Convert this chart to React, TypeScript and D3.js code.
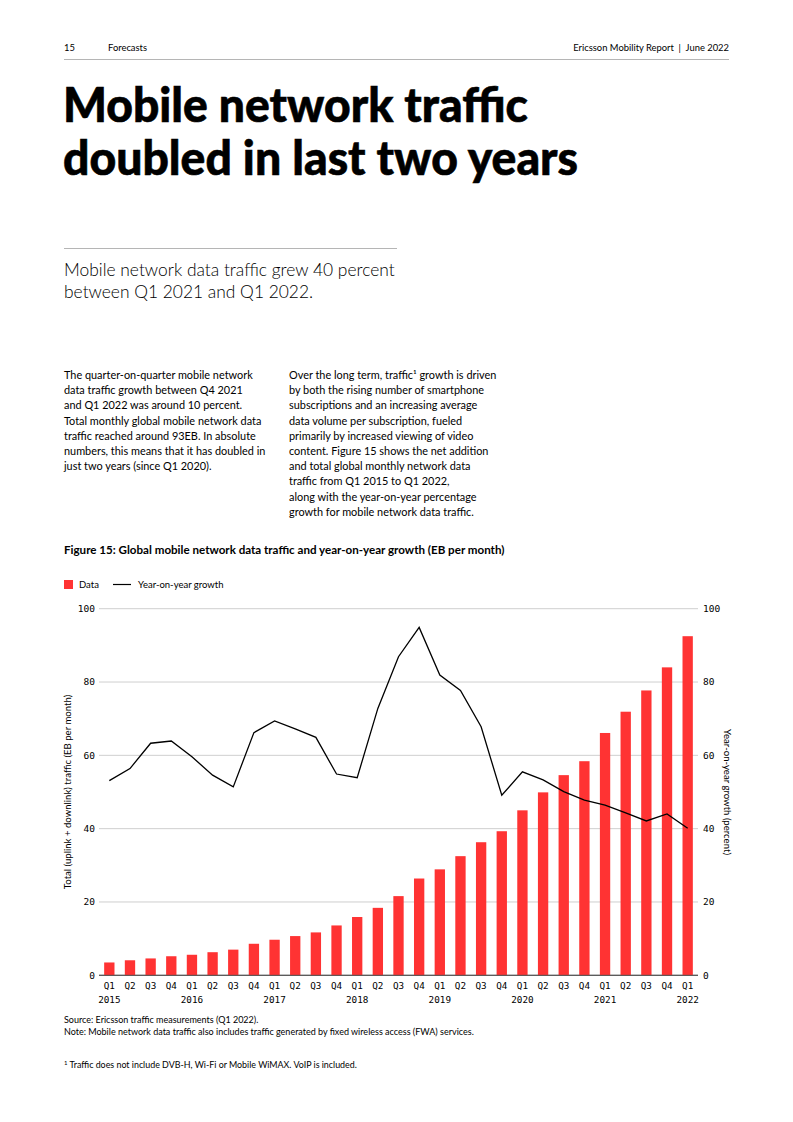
import React from "react";
import * as d3 from "d3";

const quarters = ["Q1","Q2","Q3","Q4","Q1","Q2","Q3","Q4","Q1","Q2","Q3","Q4","Q1","Q2","Q3","Q4","Q1","Q2","Q3","Q4","Q1","Q2","Q3","Q4","Q1","Q2","Q3","Q4","Q1"];
const years = ["2015","2015","2015","2015","2016","2016","2016","2016","2017","2017","2017","2017","2018","2018","2018","2018","2019","2019","2019","2019","2020","2020","2020","2020","2021","2021","2021","2021","2022"];
const trafficEB = [3.5,4.1,4.6,5.2,5.6,6.3,7.0,8.6,9.7,10.7,11.7,13.6,15.9,18.4,21.6,26.4,28.9,32.5,36.3,39.3,45.0,49.9,54.6,58.4,66.1,71.9,77.7,84.0,92.5];
const growthPct = [53.1,56.4,63.3,63.9,59.6,54.6,51.4,66.2,69.4,67.2,64.9,54.9,53.9,72.8,86.9,94.9,81.9,77.7,67.8,49.1,55.5,53.3,50.1,47.8,46.4,44.3,42.1,44.0,40.1];
const yTicks = [0,20,40,60,80,100];

const bodyLeft = [
  "The quarter-on-quarter mobile network",
  "data traffic growth between Q4 2021",
  "and Q1 2022 was around 10 percent.",
  "Total monthly global mobile network data",
  "traffic reached around 93EB. In absolute",
  "numbers, this means that it has doubled in",
  "just two years (since Q1 2020).",
];
const bodyRight = [
  "Over the long term, traffic¹ growth is driven",
  "by both the rising number of smartphone",
  "subscriptions and an increasing average",
  "data volume per subscription, fueled",
  "primarily by increased viewing of video",
  "content. Figure 15 shows the net addition",
  "and total global monthly network data",
  "traffic from Q1 2015 to Q1 2022,",
  "along with the year-on-year percentage",
  "growth for mobile network data traffic.",
];

const SANS = "Lato, 'Noto Sans', sans-serif";
const MONO = "'DejaVu Sans Mono', monospace";
const RED = "#ff3333";

export default function App() {
  const left = 99, right = 698, top = 608.7, bottom = 975.3;
  const idx = trafficEB.map((_, i) => String(i));
  const x = d3.scaleBand<string>().domain(idx).range([left, right]).paddingInner(0.5).paddingOuter(0.25);
  const y = d3.scaleLinear().domain([0, 100]).range([bottom, top]);
  const line = d3.line<number>().x((_, i) => (x(String(i)) as number) + x.bandwidth() / 2).y((d) => y(d));

  return (
    <svg width={793} height={1122} style={{ position: "absolute", left: 0, top: 0, background: "#fff" }} fontFamily={SANS}>
      {/* header */}
      <text x={64} y={51} fontSize={9.4} fill="#000">15</text>
      <text x={108} y={51} fontSize={9.4} fill="#000">Forecasts</text>
      <text x={729} y={51} fontSize={9.4} fill="#000" textAnchor="end">{"Ericsson Mobility Report\u2002|\u2002June 2022"}</text>
      <line x1={64} x2={729} y1={59.5} y2={59.5} stroke="#b5b5b5" strokeWidth={1} />

      {/* title */}
      <text x={63} y={122} fontSize={47} fontWeight={900} fill="#000" stroke="#000" strokeWidth={0.6} textLength={465} lengthAdjust="spacingAndGlyphs">Mobile network traffic</text>
      <text x={63} y={175} fontSize={47} fontWeight={900} fill="#000" stroke="#000" strokeWidth={0.6} textLength={515} lengthAdjust="spacingAndGlyphs">doubled in last two years</text>

      {/* lead */}
      <line x1={64} x2={397} y1={248.5} y2={248.5} stroke="#b5b5b5" strokeWidth={1} />
      <text x={64} y={276} fontSize={17.4} fontWeight={300} fill="#000">Mobile network data traffic grew 40 percent</text>
      <text x={64} y={298} fontSize={17.4} fontWeight={300} fill="#000">between Q1 2021 and Q1 2022.</text>

      {/* body */}
      {bodyLeft.map((t, i) => (
        <text key={"l" + i} x={64} y={379 + i * 15.2} fontSize={10.9} fill="#000">{t}</text>
      ))}
      {bodyRight.map((t, i) => (
        <text key={"r" + i} x={289} y={379 + i * 15.2} fontSize={10.9} fill="#000">{t}</text>
      ))}

      {/* figure title */}
      <text x={64} y={554} fontSize={11.6} fontWeight={700} fill="#000">Figure 15: Global mobile network data traffic and year-on-year growth (EB per month)</text>

      {/* legend */}
      <rect x={64} y={580} width={9} height={9} fill={RED} />
      <text x={79} y={588} fontSize={9.5} fill="#000">Data</text>
      <line x1={113} x2={131} y1={584.5} y2={584.5} stroke="#000" strokeWidth={1.2} />
      <text x={138} y={588} fontSize={9.5} fill="#000">Year-on-year growth</text>

      {/* gridlines & ticks */}
      {yTicks.map((t) => (
        <g key={t}>
          <line x1={left} x2={right} y1={y(t)} y2={y(t)} stroke={t === 0 ? "#555" : "#cfcfcf"} strokeWidth={1} />
          <text x={95} y={y(t) + 3.3} fontSize={9.5} fontFamily={MONO} textAnchor="end" fill="#000">{t}</text>
          <text x={703} y={y(t) + 3.3} fontSize={9.5} fontFamily={MONO} textAnchor="start" fill="#000">{t}</text>
        </g>
      ))}

      {/* bars */}
      {trafficEB.map((v, i) => (
        <rect key={i} x={x(String(i))} y={y(v)} width={x.bandwidth()} height={y(0) - y(v)} fill={RED} />
      ))}
      <line x1={left} x2={right} y1={y(0)} y2={y(0)} stroke="#555" strokeWidth={1} />

      {/* line */}
      <path d={line(growthPct) || ""} fill="none" stroke="#000" strokeWidth={1.3} strokeLinejoin="miter" />

      {/* x labels */}
      {quarters.map((q, i) => {
        const cx = (x(String(i)) as number) + x.bandwidth() / 2;
        return (
          <g key={i}>
            <text x={cx} y={989} fontSize={9.3} fontFamily={MONO} textAnchor="middle" fill="#000">{q}</text>
            {q === "Q1" && (
              <text x={cx} y={1002.5} fontSize={9.3} fontFamily={MONO} textAnchor="middle" fill="#000">{years[i]}</text>
            )}
          </g>
        );
      })}

      {/* axis titles */}
      <text transform={`translate(71,${(top + bottom) / 2}) rotate(-90)`} fontSize={9.6} textAnchor="middle" fill="#000">Total (uplink + downlink) traffic (EB per month)</text>
      <text transform={`translate(724,${(top + bottom) / 2}) rotate(90)`} fontSize={9.6} textAnchor="middle" fill="#000">Year-on-year growth (percent)</text>

      {/* footer */}
      <text x={64} y={1023} fontSize={9} fill="#000">Source: Ericsson traffic measurements (Q1 2022).</text>
      <text x={64} y={1035} fontSize={9} fill="#000">Note: Mobile network data traffic also includes traffic generated by fixed wireless access (FWA) services.</text>
      <text x={64} y={1068} fontSize={8.9} fill="#000"><tspan fontSize={6} dy={-3}>1</tspan><tspan dy={3}> Traffic does not include DVB-H, Wi-Fi or Mobile WiMAX. VoIP is included.</tspan></text>
    </svg>
  );
}
